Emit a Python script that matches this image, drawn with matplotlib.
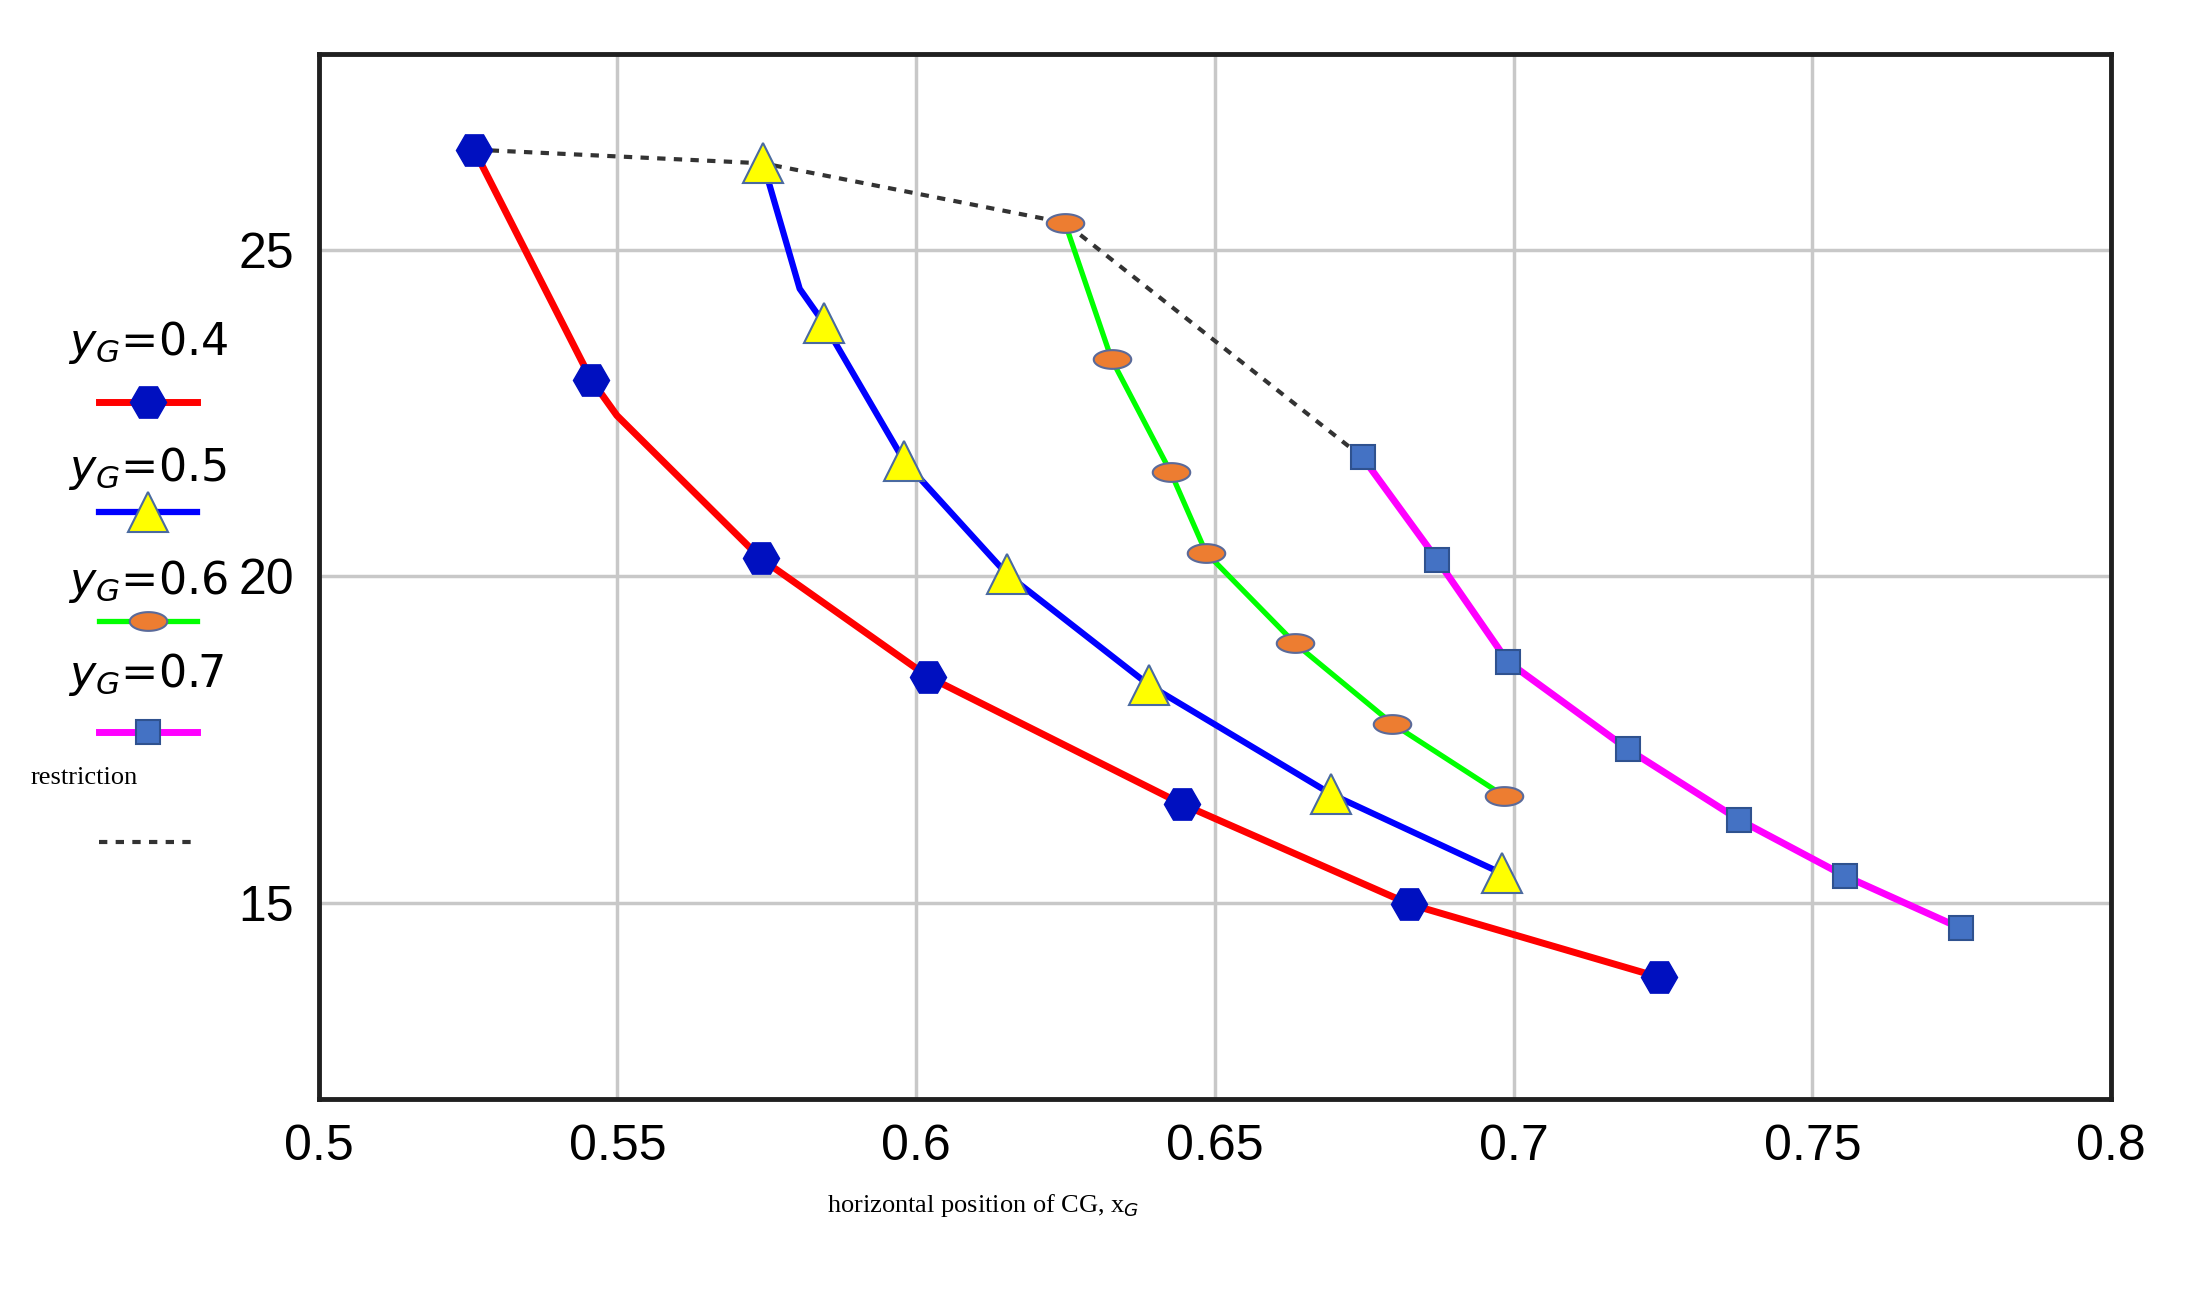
import numpy as np
import matplotlib.pyplot as plt
from matplotlib.path import Path
from matplotlib.lines import Line2D

# series: x = horizontal position of CG, y = value
# (red and blue curves have one unmarked bend point each)
x_04 = [0.526, 0.5456, 0.5499, 0.574, 0.602, 0.6445, 0.6825, 0.7243]
y_04 = [26.53, 23.01, 22.46, 20.27, 18.46, 16.51, 14.98, 13.86]
marked_04 = [0, 1, 3, 4, 5, 6, 7]

x_05 = [0.5744, 0.5805, 0.5845, 0.598, 0.6152, 0.639, 0.6695, 0.698]
y_05 = [26.32, 24.40, 23.88, 21.76, 20.03, 18.33, 16.66, 15.45]
marked_05 = [0, 2, 3, 4, 5, 6, 7]

x_06 = [0.6249, 0.6327, 0.6426, 0.6485, 0.6634, 0.6797, 0.6983]
y_06 = [25.41, 23.32, 21.59, 20.36, 18.97, 17.74, 16.64]
marked_06 = list(range(7))

x_07 = [0.6747, 0.6872, 0.699, 0.7191, 0.7377, 0.7554, 0.7748]
y_07 = [21.82, 20.25, 18.69, 17.35, 16.27, 15.41, 14.61]
marked_07 = list(range(7))

# restriction curve joins the first point of each series
x_restr = [x_04[0], x_05[0], x_06[0], x_07[0]]
y_restr = [y_04[0], y_05[0], y_06[0], y_07[0]]

legend_labels = ["$y_G$=0.4", "$y_G$=0.5", "$y_G$=0.6", "$y_G$=0.7"]
x_ticks = [0.5, 0.55, 0.6, 0.65, 0.7, 0.75, 0.8]
x_ticklabels = ["0.5", "0.55", "0.6", "0.65", "0.7", "0.75", "0.8"]
y_ticks = [15, 20, 25]

# horizontal ellipse marker
t = np.linspace(0, 2 * np.pi, 60)
ellipse = Path(np.column_stack([np.cos(t), 0.5 * np.sin(t)]), closed=True)

styles = [
    dict(color="#ff0000", lw=5, marker="H", ms=26, mfc="#0010c0", mec="#0010c0"),
    dict(color="#0000ff", lw=4.5, marker="^", ms=29, mfc="#ffff00", mec="#4a6aa0", mew=1.5),
    dict(color="#00ff00", lw=3.8, marker=ellipse, ms=27, mfc="#ed7d31", mec="#5a6a9a", mew=1.5),
    dict(color="#ff00ff", lw=5, marker="s", ms=17, mfc="#4472c4", mec="#2f528f", mew=1.5),
]
series = [(x_04, y_04, marked_04), (x_05, y_05, marked_05),
          (x_06, y_06, marked_06), (x_07, y_07, marked_07)]

restr_style = dict(color="#333333", lw=3, ls=(0, (2, 2)))

fig = plt.figure(figsize=(22.1, 12.89), dpi=100)
ax = fig.add_axes([0.1442, 0.1477, 0.8111, 0.8107])

ax.plot(x_restr, y_restr, zorder=2, **restr_style)
for (xs, ys, mk), st in zip(series, styles):
    ax.plot(xs, ys, markevery=mk, zorder=3, **st)

ax.set_xlim(0.5, 0.8)
ax.set_ylim(12, 28)
ax.set_xticks(x_ticks)
ax.set_xticklabels(x_ticklabels)
ax.set_yticks(y_ticks)
ax.grid(True, color="#c8c8c8", lw=2.5)
ax.set_axisbelow(True)
ax.tick_params(length=0, pad=18, labelsize=36)
for lab in ax.get_xticklabels() + ax.get_yticklabels():
    lab.set_family(["Liberation Sans Narrow", "Liberation Sans", "DejaVu Sans"])
for sp in ax.spines.values():
    sp.set_linewidth(3.5)
    sp.set_color("#202020")


def fpos(px, py):
    # position on the 1567x914 preview -> figure fraction
    return px / 1567, 1 - py / 914


# hand-made legend left of the axes
text_y = [243, 332, 412, 478]
line_y = [285, 363, 440, 519]
for lab, ty, ly, st in zip(legend_labels, text_y, line_y, styles):
    fx, fy = fpos(48, ty)
    fig.text(fx, fy, lab, fontsize=32, va="center", ha="left")
    x0, y0 = fpos(70, ly)
    x1, _ = fpos(140, ly)
    fig.add_artist(Line2D([x0, x1], [y0, y0], color=st["color"], lw=st["lw"],
                          transform=fig.transFigure))
    fig.add_artist(Line2D([(x0 + x1) / 2], [y0], ls="none", marker=st["marker"],
                          ms=st["ms"], mfc=st["mfc"], mec=st["mec"],
                          mew=st.get("mew", 1), transform=fig.transFigure))

fx, fy = fpos(22, 552)
fig.text(fx, fy, "restriction", fontsize=19, family="Liberation Serif", va="center")
x0, y0 = fpos(70, 597)
x1, _ = fpos(140, 597)
fig.add_artist(Line2D([x0, x1], [y0, y0], transform=fig.transFigure, **restr_style))

fx, fy = fpos(697, 855)
fig.text(fx, fy, "horizontal position of CG, x$_G$", fontsize=19,
         family="Liberation Serif", ha="center", va="center")

fig.savefig("out.png", dpi=100, facecolor="white")
